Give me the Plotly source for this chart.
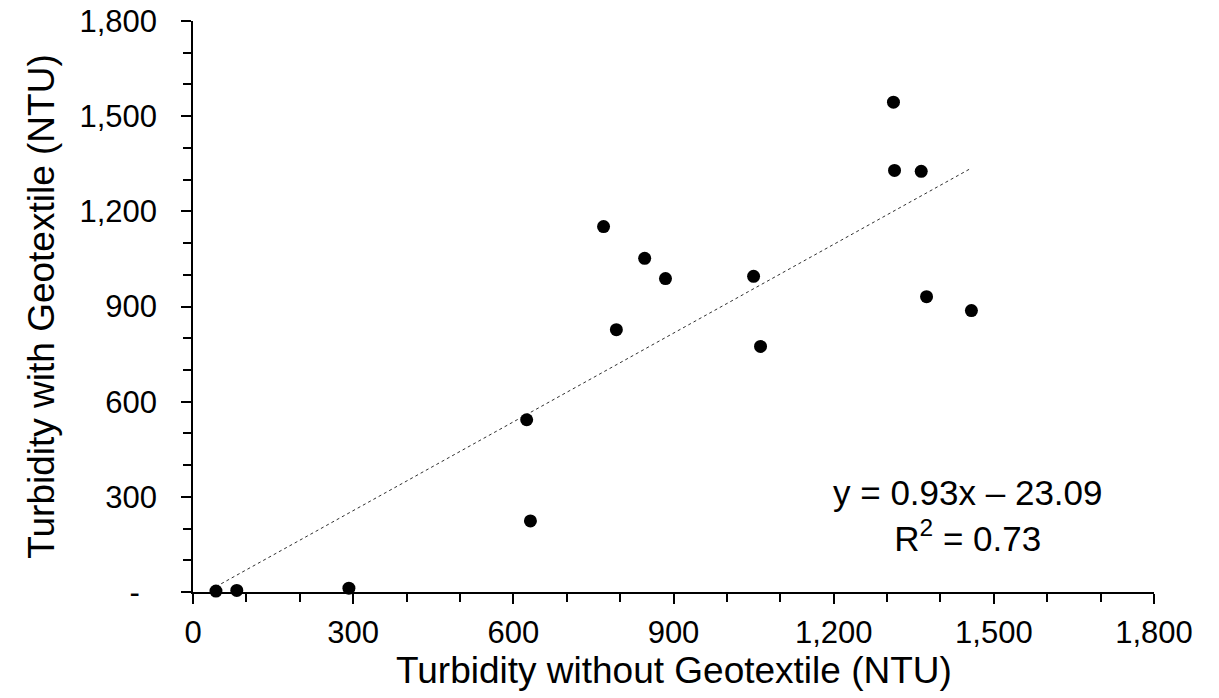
import numpy as np
import plotly.graph_objects as go

# Data
turb_without = [43, 82, 292, 625, 632, 769, 793, 846, 885, 1050, 1063, 1312, 1314, 1364, 1374, 1458]
turb_with = [3, 5, 12, 543, 224, 1152, 827, 1052, 988, 995, 774, 1544, 1329, 1326, 931, 887]

tick_vals = [0, 300, 600, 900, 1200, 1500, 1800]
x_tick_text = ["0", "300", "600", "900", "1,200", "1,500", "1,800"]
y_tick_text = ["-\u00a0\u00a0", "300", "600", "900", "1,200", "1,500", "1,800"]

x_title = "Turbidity without Geotextile (NTU)"
y_title = "Turbidity with Geotextile (NTU)"
eq_text = "y = 0.93x \u2013 23.09<br>R<sup>2</sup> = 0.73"

# Linear trendline fitted from the data
slope, intercept = np.polyfit(turb_without, turb_with, 1)
x_fit = np.array([min(turb_without), max(turb_without)])
y_fit = slope * x_fit + intercept

FONT = "Liberation Sans, Arial, sans-serif"

fig = go.Figure()
fig.add_trace(go.Scatter(
    x=x_fit, y=y_fit, mode="lines",
    line=dict(color="#303030", width=1, dash="dot"),
    hoverinfo="skip", showlegend=False,
))
fig.add_trace(go.Scatter(
    x=turb_without, y=turb_with, mode="markers",
    marker=dict(color="black", size=13),
    cliponaxis=False, showlegend=False,
))

fig.add_annotation(
    x=1452, y=240, xref="x", yref="y",
    text=eq_text, showarrow=False, align="center",
    xanchor="center", yanchor="middle",
    font=dict(family=FONT, size=35, color="black"),
)

# X axis title placed as an annotation for precise vertical position
fig.add_annotation(
    x=0.5, y=0, xref="paper", yref="paper",
    text=x_title, showarrow=False,
    xanchor="center", yanchor="middle", yshift=-78,
    font=dict(family=FONT, size=37, color="black"),
)

axis_common = dict(
    range=[0, 1800], tickvals=tick_vals, automargin=False,
    showline=True, linecolor="black", linewidth=1.5,
    ticks="outside", ticklen=10, tickwidth=1.5, tickcolor="black",
    minor=dict(ticks="outside", dtick=100, ticklen=8, tickwidth=1.5, tickcolor="black"),
    showgrid=False, zeroline=False,
    tickfont=dict(family=FONT, size=31, color="black"),
)

fig.update_layout(
    width=1219, height=698,
    margin=dict(l=193, r=65, t=21, b=106),
    paper_bgcolor="white", plot_bgcolor="white",
    xaxis=dict(**axis_common, ticktext=x_tick_text, ticklabelstandoff=2),
    yaxis=dict(**axis_common, ticktext=y_tick_text, ticklabelstandoff=18,
               title=dict(text=y_title,
                          font=dict(family=FONT, size=37, color="black"), standoff=14)),
)

fig.write_html("out.html")
